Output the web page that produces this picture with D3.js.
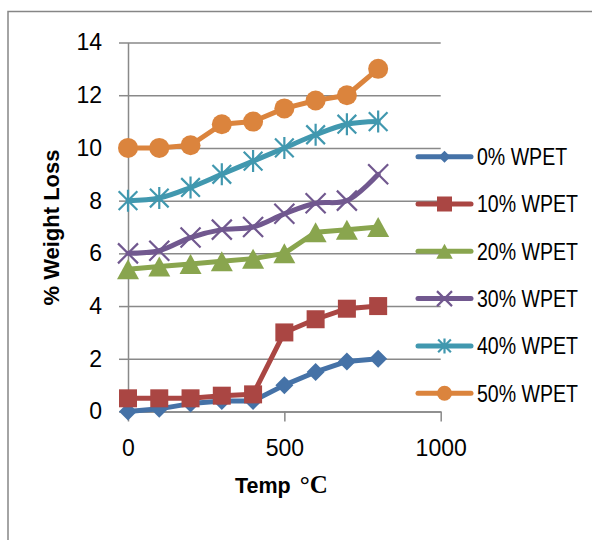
<!DOCTYPE html>
<html><head><meta charset="utf-8">
<script src="https://cdn.jsdelivr.net/npm/d3@7"></script>
<style>body{margin:0;background:#fff}svg{display:block}</style>
</head><body>
<svg id="c" width="592" height="540"></svg>
<script>
// ---- data ----
const temps = [0, 100, 200, 300, 400, 500, 600, 700, 800];
const seriesNames = ["0% WPET", "10% WPET", "20% WPET", "30% WPET", "40% WPET", "50% WPET"];
const wpet0  = [0, 0.1, 0.3, 0.4, 0.4, 1.0, 1.5, 1.9, 2.0];
const wpet10 = [0.5, 0.5, 0.5, 0.6, 0.65, 3.0, 3.5, 3.9, 4.0];
const wpet20 = [5.4, 5.5, 5.6, 5.7, 5.8, 6.0, 6.8, 6.9, 7.0];
const wpet30 = [6.0, 6.1, 6.6, 6.9, 7.0, 7.5, 7.9, 8.0, 9.0];
const wpet40 = [8.0, 8.1, 8.5, 9.0, 9.5, 10.0, 10.5, 10.9, 11.0];
const wpet50 = [10.0, 10.0, 10.1, 10.9, 11.0, 11.5, 11.8, 12.0, 13.0];
const xTicks = [0, 500, 1000];
const yTicks = [0, 2, 4, 6, 8, 10, 12, 14];

// ---- styles ----
const colors = ["#4572A7", "#AA4643", "#89A54E", "#71588F", "#4198AF", "#DB843D"];
const markers = ["diamond", "square", "triangle", "x", "star", "circle"];
const smooth = [false, false, false, true, true, false];
const allValues = [wpet0, wpet10, wpet20, wpet30, wpet40, wpet50];
const gridColor = "#898989";
const font = "'Liberation Sans', Arial, sans-serif";

const svg = d3.select("#c");
svg.append("rect").attr("width", 592).attr("height", 540).attr("fill", "#fff");
svg.append("rect").attr("x", 8).attr("y", 11.5).attr("width", 700).attr("height", 700)
  .attr("fill", "none").attr("stroke", "#868686").attr("stroke-width", 1.5);

const x = d3.scaleLinear().domain([0, 1000]).range([128, 440.7]);
const y = d3.scaleLinear().domain([0, 14]).range([411.5, 42.5]);

// grid
const grid = svg.append("g").attr("transform", `translate(${x(0)},0)`)
  .call(d3.axisLeft(y).tickValues(yTicks).tickSize(-(x(1000) - x(0))).tickFormat(""));
grid.select(".domain").remove();
grid.selectAll("line").attr("stroke", gridColor).attr("stroke-width", 1.5);

// y axis
const ya = svg.append("g").attr("transform", `translate(${x(0)},0)`)
  .call(d3.axisLeft(y).tickValues(yTicks).tickFormat(d3.format("d")).tickSize(9).tickSizeOuter(0).tickPadding(17));
ya.select(".domain").attr("stroke", gridColor).attr("stroke-width", 1.5);
ya.selectAll("line").attr("stroke", gridColor).attr("stroke-width", 1.5);
ya.selectAll("text").attr("font-family", font).attr("font-size", 23).attr("fill", "#000");

// x axis
const xa = svg.append("g").attr("transform", `translate(0,${y(0)})`)
  .call(d3.axisBottom(x).tickValues(xTicks).tickFormat(d3.format("d")).tickSize(10).tickSizeOuter(0).tickPadding(18));
xa.select(".domain").attr("stroke", gridColor).attr("stroke-width", 1.5);
xa.selectAll("line").attr("stroke", gridColor).attr("stroke-width", 1.5);
xa.selectAll("text").attr("font-family", font).attr("font-size", 23).attr("fill", "#000");

// axis titles
svg.append("text").attr("transform", "translate(59,227.5) rotate(-90)")
  .attr("text-anchor", "middle").attr("font-family", font).attr("font-weight", "bold")
  .attr("font-size", 22).attr("fill", "#000").text("% Weight Loss");
const xt = svg.append("text").attr("x", 235).attr("y", 492.7)
  .attr("font-family", font).attr("font-weight", "bold").attr("font-size", 21.5).attr("fill", "#000");
xt.append("tspan").text("Temp");
xt.append("tspan").attr("dx", 9).attr("font-family", "'Liberation Serif', 'Times New Roman', serif")
  .attr("font-weight", "bold").attr("font-size", 25).text("°C");

function drawMarker(g, type, color, s) {
  if (type === "diamond") {
    g.append("path").attr("d", `M0,${-s}L${s},0L0,${s}L${-s},0Z`).attr("fill", color);
  } else if (type === "square") {
    g.append("rect").attr("x", -s).attr("y", -s).attr("width", 2 * s).attr("height", 2 * s).attr("fill", color);
  } else if (type === "triangle") {
    g.append("path").attr("d", `M0,${-s}L${s * 1.1},${s}L${-s * 1.1},${s}Z`).attr("fill", color);
  } else if (type === "circle") {
    g.append("circle").attr("r", s).attr("fill", color);
  } else if (type === "x") {
    g.append("path").attr("d", `M${-s},${-s}L${s},${s}M${-s},${s}L${s},${-s}`)
      .attr("stroke", color).attr("stroke-width", 2.2).attr("fill", "none");
  } else if (type === "star") {
    const a = s * 0.85;
    g.append("path").attr("d", `M${-a},${-a}L${a},${a}M${-a},${a}L${a},${-a}M0,${-s}L0,${s}`)
      .attr("stroke", color).attr("stroke-width", 2.2).attr("fill", "none");
  }
}

const markerSize = [9, 9, 10, 10, 11, 10];
const legendMarkerSize = [6, 7.5, 7.5, 7.5, 7.5, 7.5];

allValues.forEach((vals, i) => {
  const pts = temps.map((t, k) => [t, vals[k]]);
  const line = d3.line().x(d => x(d[0])).y(d => y(d[1]))
    .curve(smooth[i] ? d3.curveCatmullRom.alpha(0.5) : d3.curveLinear);
  const g = svg.append("g");
  g.append("path").attr("d", line(pts)).attr("fill", "none").attr("stroke", colors[i])
    .attr("stroke-width", 5).attr("stroke-linejoin", "round").attr("stroke-linecap", "round");
  pts.forEach(p => {
    const mg = g.append("g").attr("transform", `translate(${x(p[0])},${y(p[1])})`);
    drawMarker(mg, markers[i], colors[i], markerSize[i]);
  });
});

// legend
const lg = svg.append("g");
seriesNames.forEach((name, i) => {
  const cy = 156.7 + i * 47.3;
  const row = lg.append("g").attr("transform", `translate(0,${cy})`);
  row.append("line").attr("x1", 418).attr("x2", 471).attr("y1", 0).attr("y2", 0)
    .attr("stroke", colors[i]).attr("stroke-width", 5).attr("stroke-linecap", "round");
  const mg = row.append("g").attr("transform", "translate(444.5,0)");
  drawMarker(mg, markers[i], colors[i], legendMarkerSize[i]);
  row.append("text").attr("transform", "translate(477,8.3) scale(0.85,1)")
    .attr("font-family", font).attr("font-size", 23).attr("fill", "#000").text(name);
});
</script>
</body></html>
